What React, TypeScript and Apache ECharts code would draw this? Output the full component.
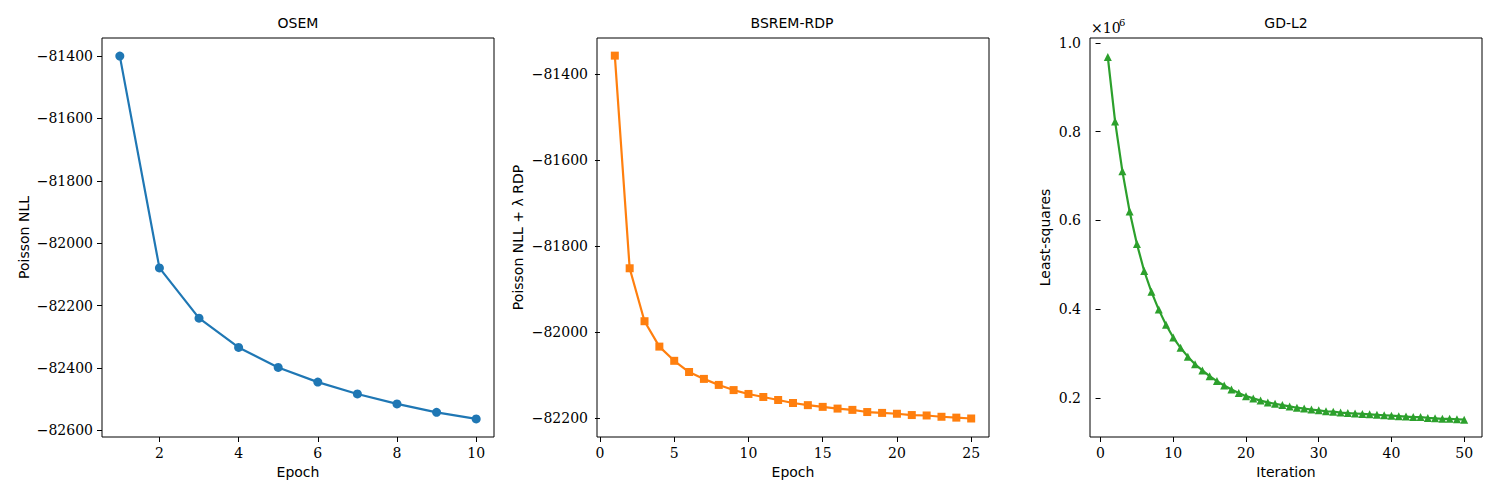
import { useEffect, useRef } from 'react';
import * as echarts from 'echarts';

// OSEM, Poisson NLL per epoch
const osemNll = [-81400, -82079, -82240, -82334, -82398, -82445, -82483, -82515, -82542, -82563];

// BSREM-RDP, Poisson NLL + lambda RDP per epoch
const bsremObj = [
  -81357, -81851, -81974, -82033, -82066, -82092, -82108, -82122, -82134, -82143,
  -82150, -82157, -82164, -82169, -82173, -82177, -82180, -82185, -82187, -82189,
  -82192, -82193, -82196, -82198, -82200,
];

// GD-L2, least-squares per iteration
const gdLsq = [
  968000, 823000, 711000, 620000, 547000, 486000, 439000, 399000, 365000, 336000,
  313000, 293000, 276000, 262000, 249000, 238000, 228000, 219000, 211000, 204000,
  199000, 194000, 190000, 187000, 184000, 181000, 178000, 176000, 174000, 172000,
  170000, 169000, 167000, 166000, 165000, 164000, 163000, 162000, 161000, 160000,
  159000, 158000, 157000, 157000, 155000, 154000, 153000, 153000, 152000, 151000,
];

const osemYTicks = [-82600, -82400, -82200, -82000, -81800, -81600, -81400];
const osemXTicks = [2, 4, 6, 8, 10];
const bsremYTicks = [-82200, -82000, -81800, -81600, -81400];
const bsremXTicks = [0, 5, 10, 15, 20, 25];
const gdYTicks = [200000, 400000, 600000, 800000, 1000000];
const gdXTicks = [0, 10, 20, 30, 40, 50];

const serif = 'DejaVu Serif';
const sans = 'DejaVu Sans';

const minusFmt = (v: number) => (v < 0 ? '\u2212' + Math.abs(v) : String(v));

const labelStyle = {
  fontFamily: serif,
  fontSize: 14,
  color: '#000',
  margin: 9,
};

function xAxis(idx: number, min: number, max: number, ticks: number[], name: string) {
  return {
    type: 'value',
    gridIndex: idx,
    min,
    max,
    name,
    nameLocation: 'middle',
    nameGap: 28,
    nameTextStyle: { fontFamily: sans, fontSize: 14, color: '#000' },
    axisLine: { show: false },
    axisTick: { show: true, length: 5, lineStyle: { color: '#000' }, customValues: ticks },
    axisLabel: { ...labelStyle, customValues: ticks, formatter: minusFmt },
    splitLine: { show: false },
  };
}

function yAxis(
  idx: number,
  min: number,
  max: number,
  ticks: number[],
  name: string,
  gap: number,
  fmt: (v: number) => string,
) {
  return {
    type: 'value',
    gridIndex: idx,
    min,
    max,
    name,
    nameLocation: 'middle',
    nameGap: gap,
    nameTextStyle: { fontFamily: sans, fontSize: 14, color: '#000' },
    axisLine: { show: false },
    axisTick: { show: true, length: 5, lineStyle: { color: '#000' }, customValues: ticks },
    axisLabel: { ...labelStyle, customValues: ticks, formatter: fmt },
    splitLine: { show: false },
  };
}

export default function App() {
  const chartRef = useRef<HTMLDivElement>(null);

  useEffect(() => {
    document.body.style.margin = '0';
    const chart = echarts.init(chartRef.current, null, { renderer: 'svg' });
    const grid = (left: number) => ({
      left,
      top: 38,
      width: 392,
      height: 399,
      show: true,
      borderColor: '#000',
      borderWidth: 1,
      backgroundColor: 'transparent',
    });
    const titleStyle = { fontFamily: sans, fontSize: 14, fontWeight: 'normal', color: '#000' };
    const option = {
      animation: false,
      backgroundColor: '#fff',
      textStyle: { fontFamily: sans },
      title: [
        { text: 'OSEM', left: 298, top: 16, padding: 0, textAlign: 'center', textStyle: titleStyle },
        { text: 'BSREM-RDP', left: 792, top: 16, padding: 0, textAlign: 'center', textStyle: titleStyle },
        { text: 'GD-L2', left: 1286, top: 16, padding: 0, textAlign: 'center', textStyle: titleStyle },
      ],
      grid: [grid(102), grid(597), grid(1090)],
      xAxis: [
        xAxis(0, 0.55, 10.45, osemXTicks, 'Epoch'),
        xAxis(1, -0.2, 26.2, bsremXTicks, 'Epoch'),
        xAxis(2, -1.45, 52.45, gdXTicks, 'Iteration'),
      ],
      yAxis: [
        yAxis(0, -82621, -81342, osemYTicks, 'Poisson NLL', 71, minusFmt),
        yAxis(1, -82243, -81316, bsremYTicks, 'Poisson NLL + \u03bb RDP', 72, minusFmt),
        yAxis(2, 112000, 1011000, gdYTicks, 'Least-squares', 38, (v: number) => (v / 1e6).toFixed(1)),
      ],
      graphic: [
        {
          type: 'text',
          left: 1091,
          top: 21,
          style: { text: '\u00d710', fontFamily: serif, fontSize: 14, fill: '#000' },
        },
        {
          type: 'text',
          left: 1119,
          top: 17,
          style: { text: '6', fontFamily: serif, fontSize: 10, fill: '#000' },
        },
      ],
      series: [
        {
          type: 'line',
          xAxisIndex: 0,
          yAxisIndex: 0,
          data: osemNll.map((v, i) => [i + 1, v]),
          symbol: 'circle',
          symbolSize: 9,
          lineStyle: { color: '#1f77b4', width: 2.2 },
          itemStyle: { color: '#1f77b4' },
        },
        {
          type: 'line',
          xAxisIndex: 1,
          yAxisIndex: 1,
          data: bsremObj.map((v, i) => [i + 1, v]),
          symbol: 'rect',
          symbolSize: 8,
          lineStyle: { color: '#ff7f0e', width: 2.2 },
          itemStyle: { color: '#ff7f0e' },
        },
        {
          type: 'line',
          xAxisIndex: 2,
          yAxisIndex: 2,
          data: gdLsq.map((v, i) => [i + 1, v]),
          symbol: 'triangle',
          symbolSize: 8,
          lineStyle: { color: '#2ca02c', width: 2.2 },
          itemStyle: { color: '#2ca02c' },
        },
      ],
    };
    chart.setOption(option);
    return () => {
      chart.dispose();
    };
  }, []);

  return <div ref={chartRef} style={{ width: '1500px', height: '500px' }} />;
}
